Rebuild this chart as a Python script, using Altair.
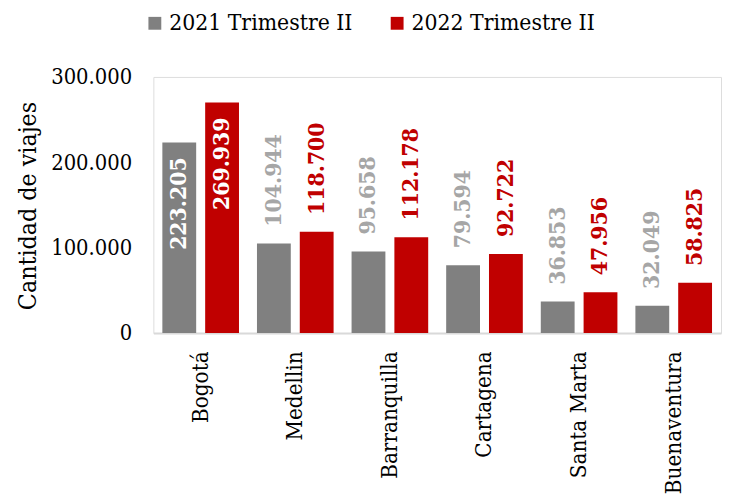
import altair as alt
import pandas as pd

cities = ["Bogotá", "Medellin", "Barranquilla", "Cartagena", "Santa Marta", "Buenaventura"]
series = ["2021 Trimestre II", "2022 Trimestre II"]
v2021 = [223205, 104944, 95658, 79594, 36853, 32049]
v2022 = [269939, 118700, 112178, 92722, 47956, 58825]

rows = []
for i, c in enumerate(cities):
    rows.append({"city": c, "serie": series[0], "value": v2021[i]})
    rows.append({"city": c, "serie": series[1], "value": v2022[i]})
df = pd.DataFrame(rows)

FONT = "DejaVu Serif Condensed, DejaVu Serif, Liberation Serif"
GRAY = "#808080"
RED = "#C00000"

x = alt.X("city:N", sort=cities, title=None,
          scale=alt.Scale(paddingInner=0.19, paddingOuter=0.095),
          axis=alt.Axis(labelAngle=270, labelFontSize=22.5, labelFont=FONT, labelColor="#000000",
                        labelPadding=18, ticks=False, domainColor="#D9D9D9", domainWidth=2,
                        labelAlign="right", labelBaseline="middle", labelLimit=0))
xo = alt.XOffset("serie:N", sort=series, scale=alt.Scale(paddingInner=0.21))
y = alt.Y("value:Q", title="Cantidad de viajes",
          scale=alt.Scale(domain=[0, 300000], nice=False),
          axis=alt.Axis(values=[0, 100000, 200000, 300000], grid=False, domain=False, ticks=False,
                        labelExpr="replace(format(datum.value, ','), ',', '.')",
                        labelFontSize=22, labelFont=FONT, labelColor="#000000", labelPadding=22,
                        titleFontSize=25, titleFont=FONT, titleFontWeight="normal", titleColor="#000000",
                        titleX=-127, titleY=130, titleAngle=270, titleBaseline="middle", titleAlign="center",
                        titleLimit=0))
color = alt.Color("serie:N", sort=series, scale=alt.Scale(domain=series, range=[GRAY, RED]),
                  legend=alt.Legend(title=None, orient="none", direction="horizontal",
                                    legendX=-10, legendY=-66, symbolType="square", symbolSize=169,
                                    symbolStrokeWidth=0, labelFontSize=23, labelFont=FONT,
                                    labelColor="#000000", columnPadding=33, labelOffset=3,
                                    symbolOpacity=1, labelLimit=0, padding=0))

base = alt.Chart(df).transform_calculate(
    label="replace(format(datum.value, ','), ',', '.')"
)

bars = base.mark_bar(opacity=1).encode(x=x, xOffset=xo, y=y, color=color)

outside = base.transform_filter(alt.datum.city != "Bogotá").mark_text(
    angle=270, align="left", baseline="middle", dx=17, fontSize=23, fontWeight="bold", font=FONT
).encode(x=x, xOffset=xo, y=y, text="label:N",
         color=alt.Color("serie:N", scale=alt.Scale(domain=series, range=["#A6A6A6", RED]), legend=None))

inside = base.transform_filter(alt.datum.city == "Bogotá").mark_text(
    angle=270, align="right", baseline="middle", dx=-15, fontSize=23, fontWeight="bold", font=FONT,
    color="#FFFFFF"
).encode(x=x, xOffset=xo, y=y, text="label:N")

chart = alt.layer(bars, outside, inside).resolve_scale(color="independent").properties(
    width=574, height=259,
    autosize=alt.AutoSizeParams(type="none"),
    padding={"left": 147, "top": 67, "right": 1, "bottom": 160},
).configure_view(stroke=None).configure(background="#FFFFFF")

chart.save("out.html", embed_options={"renderer": "svg", "actions": False})
